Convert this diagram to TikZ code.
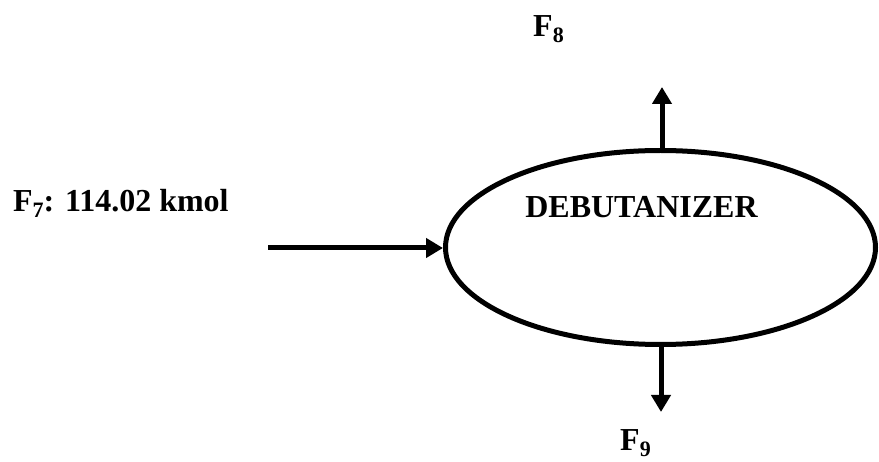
\documentclass[tikz,border=0pt]{standalone}
\usepackage{fontspec}
\setmainfont{Liberation Serif}
\usetikzlibrary{shapes.geometric,arrows.meta}
\newcommand{\flowsub}[1]{\raisebox{-0.17em}{\fontsize{22}{22}\selectfont #1}}

\begin{document}
\begin{tikzpicture}[x=1pt,y=-1pt,
  flow/.style={-{Triangle[length=17pt,width=19pt]},line width=5pt},
  lbl/.style={inner sep=0pt,anchor=base west,font=\fontsize{32}{36}\selectfont\bfseries}]
\useasboundingbox (0,0) rectangle (879,462);
\node[ellipse,draw,line width=5pt,minimum width=430pt,minimum height=194pt,inner sep=0pt] (column) at (660.5,247.5) {};
\node[lbl,anchor=base] (colname) at (641.5,218) {DEBUTANIZER};
\node[lbl] (feedlbl) at (13,212) {F\flowsub{7}: 114.02 kmol};
\node[lbl] (toplbl) at (533,37) {F\flowsub{8}};
\node[lbl] (botlbl) at (620,451) {F\flowsub{9}};
\coordinate (feedstart) at (268,248);
\coordinate (topend) at (662,87);
\coordinate (botend) at (661,412);
\draw[flow] (feedstart) -- (feedstart -| column.west);
\draw[flow] (column.north -| topend) -- (topend);
\draw[flow] (column.south -| botend) -- (botend);
\end{tikzpicture}
\end{document}
